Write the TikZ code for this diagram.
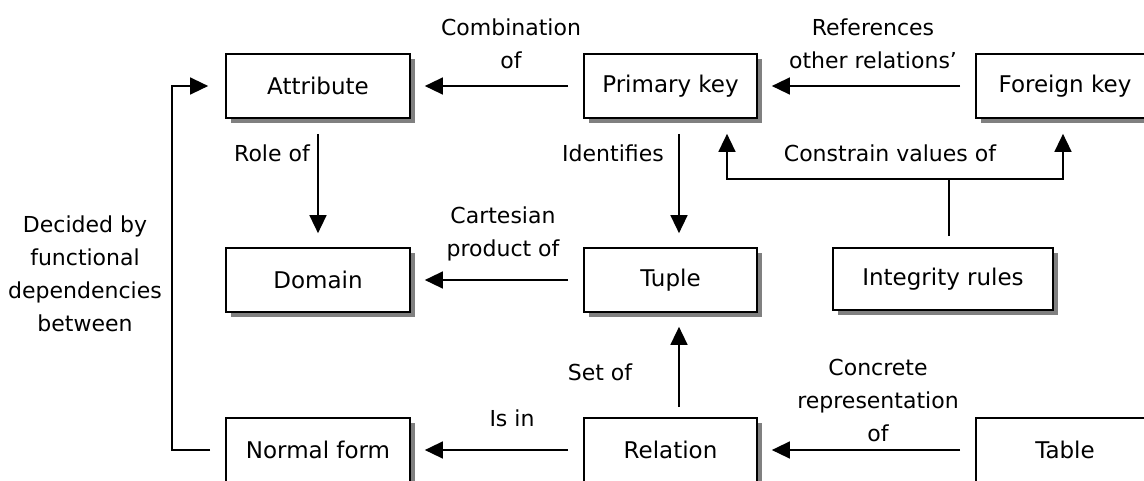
\documentclass[tikz,border=0pt]{standalone}
\usepackage{fontspec}
\setmainfont{DejaVu Sans}
\usepackage{tikz}
\usetikzlibrary{positioning,arrows.meta,shadows}

\begin{document}
\begin{tikzpicture}[x=1pt,y=-1pt,->,>={Triangle[length=18pt,width=17pt]},line width=1.5pt,
    concept/.style={draw,line width=1.7pt,minimum height=64pt,inner sep=0pt,fill=white,
        font=\fontsize{23}{33}\selectfont,
        drop shadow={shadow xshift=5pt,shadow yshift=-5pt,fill=black!50,opacity=1}},
    lbl/.style={font=\fontsize{22}{33}\selectfont,align=center},
    link/.style={shorten <=15pt,shorten >=14pt}]

    \useasboundingbox (0,0) rectangle (1144,480);

    % The concepts
    \node [concept,minimum width=184pt] at (318,86) (attr) {Attribute};
    \node [concept,minimum width=173pt] at (670.5,86) (pkey) {Primary key};
    \node [concept,minimum width=178pt] at (1065,86) (fkey) {Foreign key};
    \node [concept,minimum width=184pt] at (318,280) (dom) {Domain};
    \node [concept,minimum width=173pt] at (670.5,280) (tuple) {Tuple};
    \node [concept,minimum width=220pt,minimum height=62pt] at (943,279) (rules) {Integrity rules};
    \node [concept,minimum width=184pt] at (318,450) (nform) {Normal form};
    \node [concept,minimum width=173pt] at (670.5,450) (rel) {Relation};
    \node [concept,minimum width=178pt] at (1065,450) (table) {Table};

    % Labels
    \node [lbl] at (511,44) (combof) {Combination\\of};
    \node [lbl] at (873,44) (refs) {References\\other relations'};
    \node [lbl] at (272,153) (roleof) {Role of};
    \node [lbl] at (613,153) (ident) {Identifies};
    \node [lbl] at (890,153) (constr) {Constrain values of};
    \node [lbl] at (503,234) (cart) {Cartesian\\product of};
    \node [lbl] at (85,274) (decided) {Decided by\\functional\\dependencies\\between};
    \node [lbl] at (600,372) (setof) {Set of};
    \node [lbl] at (512,418) (isin) {Is in};
    \node [lbl] at (878,400) (concr) {Concrete\\representation\\of};

    % Graph edges
    \path[link]
    (pkey) edge (attr)
    (fkey) edge (pkey)
    (tuple) edge (dom)
    (rel) edge (nform)
    (table) edge (rel)
    (attr) edge (dom);

    \draw[link] ([xshift=8.5pt]pkey.south) -- ([xshift=8.5pt]tuple.north);
    \draw[link,shorten <=10pt] ([xshift=8.5pt]rel.north) -- ([xshift=8.5pt]tuple.south);
    \draw[link,shorten >=17pt] (nform.west) -- ++(-53,0) |- (attr.west);

    % Integrity rules fork
    \coordinate (cj) at (949,179);
    \draw[-,shorten <=11pt] ([xshift=6pt]rules.north) -- (cj);
    \draw[shorten >=15pt] (cj) -| ([xshift=56.5pt]pkey.south);
    \draw[shorten >=15pt] (cj) -| ([xshift=-2pt]fkey.south);

\end{tikzpicture}
\end{document}
